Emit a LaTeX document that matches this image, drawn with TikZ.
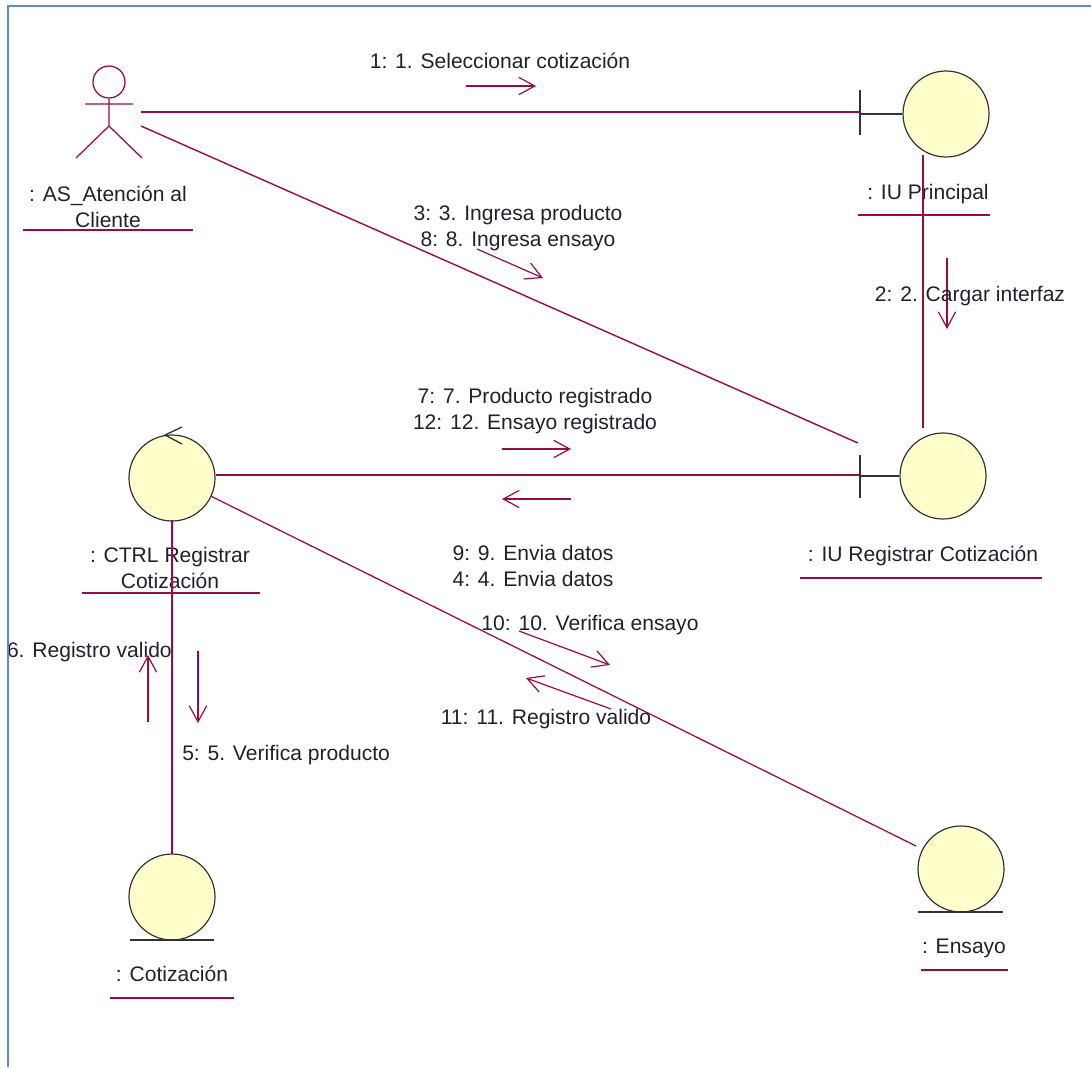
\documentclass[tikz,border=0pt]{standalone}
\usepackage{fontspec}
\setmainfont{Liberation Sans}
\usetikzlibrary{arrows.meta}

\definecolor{rosered}{HTML}{990B45}
\definecolor{objfill}{HTML}{FFFFCC}
\definecolor{objline}{HTML}{333333}
\definecolor{textdark}{HTML}{20202E}
\definecolor{framblue}{HTML}{5B8BCB}

\begin{document}
\begin{tikzpicture}[x=0.75pt, y=-0.75pt, node distance=271.5pt,
    obj/.style={draw=objline, fill=objfill, shape=circle, minimum size=64.5pt, inner sep=0pt, line width=.9pt},
    txt/.style={text=textdark, font=\fontsize{15.8}{19.5}\selectfont, align=center, inner sep=0pt},
    link/.style={draw=rosered, line width=1.05pt},
    stub/.style={draw=objline, line width=1pt},
    msg/.style={draw=rosered, line width=.9pt, -{Straight Barb[length=12pt,width=13pt]}}]

    \useasboundingbox (0,0) rectangle (1091,1067);

    % Define the objects (nodes)
    \node[obj] (iup) at (946,114) {};
    \node[obj, below of=iup, xshift=-2.25pt] (iureg) {};
    \node[obj, left of=iureg, node distance=578.25pt, yshift=-1.5pt] (ctrl) {};
    \node[obj, below of=ctrl, node distance=314.25pt] (coti) {};
    \node[obj, below of=iureg, node distance=294.75pt, xshift=13.5pt] (ensayo) {};
    \node[draw=rosered, line width=.95pt, shape=circle, minimum size=24pt, inner sep=0pt] (actor) at (109,82) {};

    % Stick figure, boundary bars, control arrow and entity lines
    \draw[link, line width=.95pt] (actor.south) -- (109,126) -- (76,158) (109,126) -- (142,158) (85,104) -- (133,104);
    \coordinate (iupbar) at (860,112);
    \coordinate (regbar) at (860,475);
    \draw[stub] (860,90) -- (860,135) (860,114) -- (iup.west);
    \draw[stub] (860,455) -- (860,498) (860,476) -- (iureg.west);
    \draw[stub] (182,427) -- (165,435) -- (182,444);
    \draw[stub] (130,940) -- (214,940);
    \draw[stub] (918,912) -- (1003,912);

    % Define the link ends
    \coordinate (actorA) at (141,112);
    \coordinate (actorB) at (141,126);
    \coordinate (iupS) at (923,155);
    \coordinate (iuregN) at (923,428);
    \coordinate (iuregW) at (858,443);
    \coordinate (ctrlS) at (172,520);
    \coordinate (cotiN) at (172,854);
    \coordinate (ensayoW) at (916,846);

    % Define the labels
    \node[txt, below of=iup, node distance=60pt, xshift=-13.5pt] (iuplbl) {: IU Principal};
    \node[txt, below of=iureg, node distance=60pt, xshift=-15pt] (reglbl) {: IU Registrar Cotización};
    \node[txt, below of=ctrl, node distance=67.5pt, xshift=-1.5pt] (ctrllbl) {: CTRL Registrar\\Cotización};
    \node[txt, below of=coti, node distance=57.75pt] (cotilbl) {: Cotización};
    \node[txt, below of=ensayo, node distance=59.25pt, xshift=2.25pt] (enslbl) {: Ensayo};
    \node[txt] (actorlbl) at (108,207) {: AS\_Atención al\\Cliente};

    % Underlines
    \foreach \xa/\xb/\yy in {858/990/215, 800/1042/578, 82/260/593, 110/234/998, 921/1008/970, 23/193/230}
        \draw[link, line width=.95pt] (\xa,\yy) -- (\xb,\yy);

    % Define the links (edges)
    \path[link]
    (actorA) edge (iupbar)
    (actorB) edge (iuregW)
    (iupS) edge (iuregN)
    (ctrl) ++(44,-3) coordinate (ctrlE) (ctrlE) edge (regbar)
    (ctrl.-25) edge[line width=.95pt] (ensayoW)
    (ctrlS) edge (cotiN);

    % Define the messages
    \coordinate (m1a) at (466,86); \coordinate (m1b) at (536,86);
    \coordinate (m2a) at (947,258); \coordinate (m2b) at (947,329);
    \coordinate (m3a) at (477,249); \coordinate (m3b) at (543,278);
    \coordinate (m7a) at (502,449); \coordinate (m7b) at (571,449);
    \coordinate (m9a) at (571,499); \coordinate (m9b) at (502,499);
    \coordinate (m10a) at (519,631); \coordinate (m10b) at (610,665);
    \coordinate (m11a) at (611,709); \coordinate (m11b) at (526,678);
    \coordinate (m6a) at (148,722); \coordinate (m6b) at (148,655);
    \coordinate (m5a) at (198,651); \coordinate (m5b) at (198,723);
    \foreach \aa/\bb in {m1a/m1b, m2a/m2b, m3a/m3b, m7a/m7b, m9a/m9b, m10a/m10b, m11a/m11b, m6a/m6b, m5a/m5b}
        \draw[msg] (\aa) -- (\bb);

    \node[txt] (m1lbl) at (500,61) {1: 1. Seleccionar cotización};
    \node[txt] (m2lbl) at (970,296) {2: 2. Cargar interfaz};
    \node[txt] (m3lbl) at (518,228) {3: 3. Ingresa producto\\8: 8. Ingresa ensayo};
    \node[txt] (m7lbl) at (535,411) {7: 7. Producto registrado\\12: 12. Ensayo registrado};
    \node[txt] (m9lbl) at (533,565.5) {9: 9. Envia datos\\4: 4. Envia datos};
    \node[txt] (m10lbl) at (590,625) {10: 10. Verifica ensayo};
    \node[txt] (m11lbl) at (546,719) {11: 11. Registro valido};
    \node[txt, anchor=east] (m6lbl) at (172,652) {6. Registro valido};
    \node[txt, anchor=west] (m5lbl) at (182,755) {5: 5. Verifica producto};
    \draw[framblue, line width=1.2pt] (1091,6) -- (8,6) -- (8,1067);
\end{tikzpicture}
\end{document}
